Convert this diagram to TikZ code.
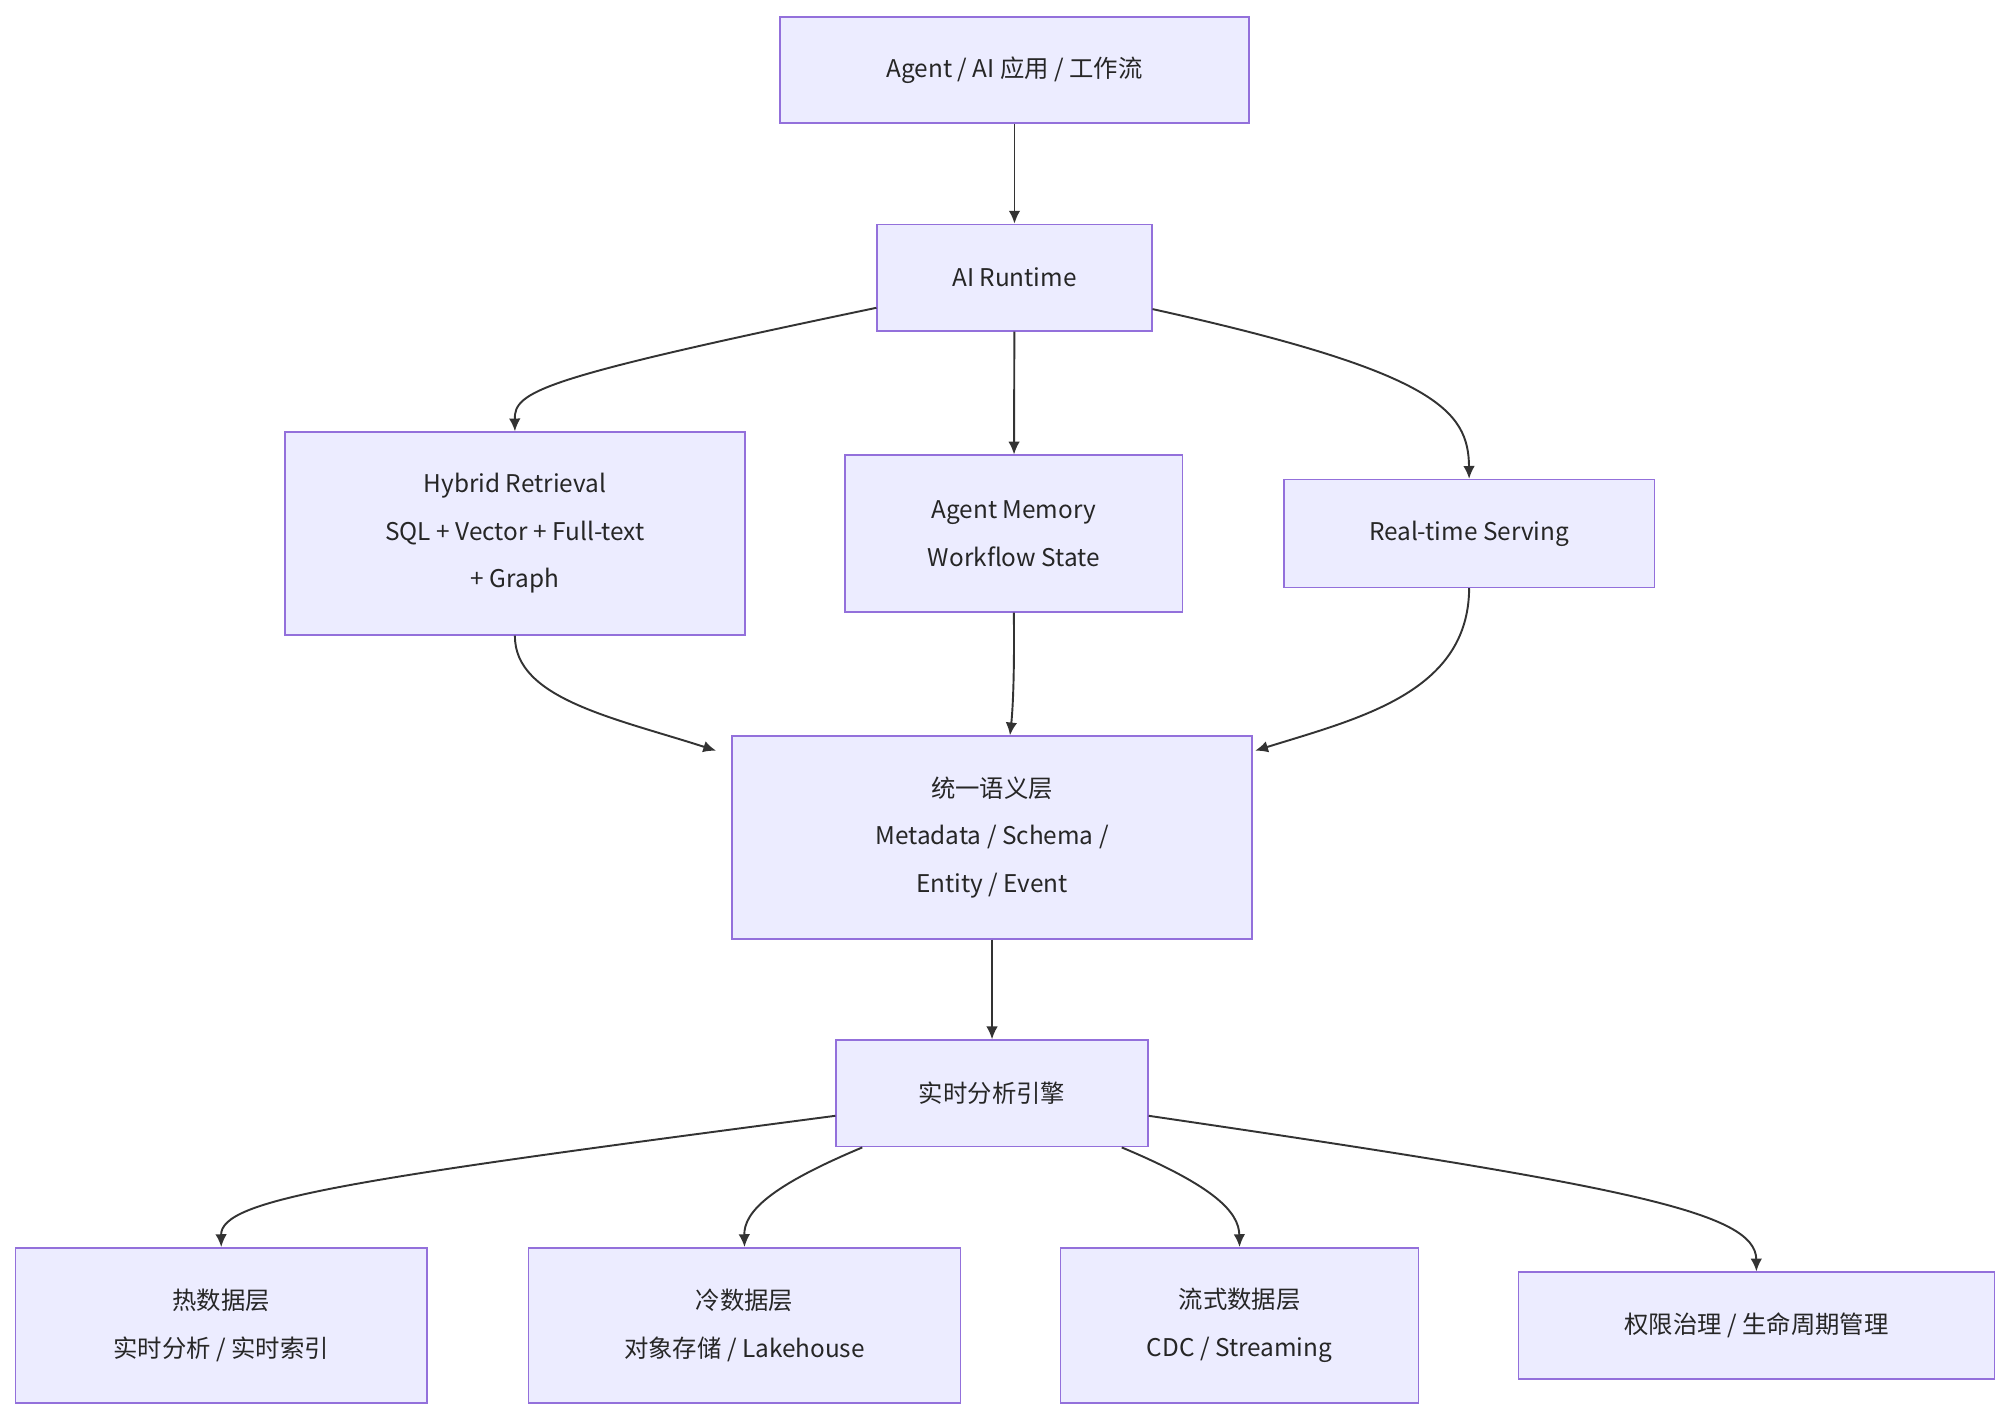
\documentclass[tikz,border=0pt]{standalone}
\usepackage{fontspec}
\setmainfont{Noto Sans CJK SC}
\usetikzlibrary{arrows.meta,calc}
\definecolor{nfill}{HTML}{ECECFF}
\definecolor{nline}{HTML}{9370DB}
\definecolor{eline}{HTML}{333333}
\begin{document}
\begin{tikzpicture}[x=1pt,y=-1pt,
  box/.style={draw=nline,fill=nfill,line width=1.3pt,inner sep=0pt,align=center,font=\fontsize{19}{37}\selectfont,text=black!85},
  arr/.style={draw=eline,line width=1.5pt,-{Latex[length=10pt,width=9pt]}}]
\fill[white] (0,0) rectangle (1568,1107);
\useasboundingbox (0,0) rectangle (1568,1107);
\node[box,minimum width=366pt,minimum height=83pt] (top) at (791,54.5) {Agent / AI 应用 / 工作流};
\node[box,minimum width=214pt,minimum height=83pt] (rt) at (791,216.5) {AI Runtime};
\node[box,minimum width=359pt,minimum height=158pt] (hy) at (401.5,416) {Hybrid Retrieval\\SQL + Vector + Full-text\\+ Graph};
\node[box,minimum width=263pt,minimum height=122pt] (mem) at (790.5,416) {Agent Memory\\Workflow State};
\node[box,minimum width=289pt,minimum height=84pt] (srv) at (1145.5,416) {Real-time Serving};
\node[box,minimum width=405pt,minimum height=158pt] (sem) at (773.5,653) {统一语义层\\Metadata / Schema /\\Entity / Event};
\node[box,minimum width=243pt,minimum height=83pt] (eng) at (773.5,852.5) {实时分析引擎};
\node[box,minimum width=321pt,minimum height=121pt] (hot) at (172.5,1033.5) {热数据层\\实时分析 / 实时索引};
\node[box,minimum width=337pt,minimum height=121pt] (cold) at (580.5,1033.5) {冷数据层\\对象存储 / Lakehouse};
\node[box,minimum width=279pt,minimum height=121pt] (st) at (966.5,1033.5) {流式数据层\\CDC / Streaming};
\node[box,minimum width=371pt,minimum height=83pt] (gov) at (1369.5,1033.5) {权限治理 / 生命周期管理};

\draw[arr] (top) -- (rt);
\draw[arr] (rt) -- (mem);
\draw[arr] ([yshift=-23.5pt]rt.west) .. controls (420,295) and (401,305) .. (hy.north);
\draw[arr] ([yshift=-24.5pt]rt.east) .. controls (1120,290) and (1145,320) .. (srv.north);
\draw[arr] (hy.south) .. controls (401,545) and (480,560) .. ([yshift=-12pt,xshift=-12pt]sem.north west);
\draw[arr] (mem.south) .. controls (791,520) and (790,550) .. ([xshift=14pt]sem.north);
\draw[arr] (srv.south) .. controls (1145,540) and (1060,560) .. ([yshift=-12pt,xshift=2pt]sem.north east);
\draw[arr] (sem) -- (eng);
\draw[arr] ([yshift=-17.5pt]eng.west) .. controls (270,920) and (172,935) .. (hot.north);
\draw[arr] ([xshift=21pt]eng.south west) .. controls (600,925) and (580,945) .. (cold.north);
\draw[arr] ([xshift=-21pt]eng.south east) .. controls (947,925) and (966,945) .. (st.north);
\draw[arr] ([yshift=-17.5pt]eng.east) .. controls (1270,925) and (1369,945) .. (gov.north);
\end{tikzpicture}
\end{document}
